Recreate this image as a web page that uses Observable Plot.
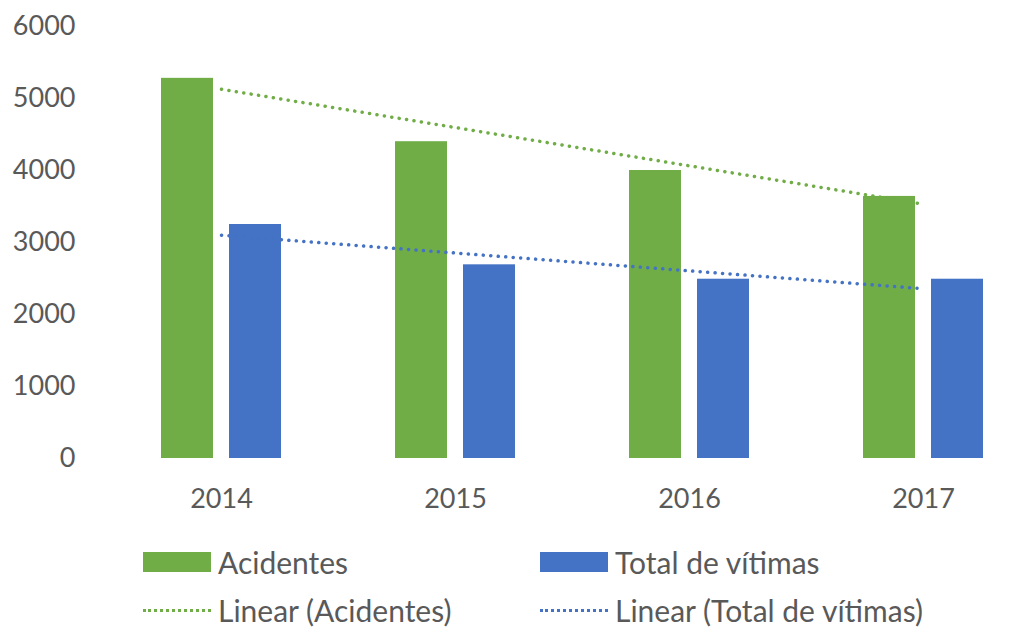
<!DOCTYPE html>
<html>
<head>
<meta charset="utf-8">
<script src="https://cdn.jsdelivr.net/npm/d3@7"></script>
<script src="https://cdn.jsdelivr.net/npm/@observablehq/plot@0.6"></script>
<style>
  body { margin: 0; background: #fff; font-family: Lato, sans-serif; }
  #wrap { position: relative; width: 1026px; height: 630px; }
  #chart { position: absolute; left: 0; top: 0; }
  .leg { position: absolute; display: flex; align-items: center; font-size: 30px; color: #595959; font-family: Lato, sans-serif; }
  .sw { width: 68px; height: 20px; margin-right: 7px; }
  .ln { width: 68px; height: 0; margin-right: 7px; border-top: 3px dotted; }
</style>
</head>
<body>
<div id="wrap">
  <div id="chart"></div>
  <div id="legend"></div>
</div>
<script>
const years = ["2014", "2015", "2016", "2017"];
const acidentes = [5280, 4400, 4000, 3640];
const vitimas = [3250, 2690, 2490, 2490];
const yTicks = [0, 1000, 2000, 3000, 4000, 5000, 6000];
const seriesNames = ["Acidentes", "Total de vítimas"];
const trendNames = ["Linear (Acidentes)", "Linear (Total de vítimas)"];
const colors = ["#70ad47", "#4472c4"];

function linreg(vals) {
  const mx = d3.mean(vals, (_, i) => i);
  const my = d3.mean(vals);
  const slope = d3.sum(vals, (v, i) => (i - mx) * (v - my)) / d3.sum(vals, (_, i) => (i - mx) ** 2);
  return vals.map((_, i) => my + slope * (i - mx));
}

const rowsA = years.map((y, i) => ({year: y, value: acidentes[i]}));
const rowsV = years.map((y, i) => ({year: y, value: vitimas[i]}));
const trendA = linreg(acidentes).map((v, i) => ({year: years[i], value: v}));
const trendV = linreg(vitimas).map((v, i) => ({year: years[i], value: v}));

const chart = Plot.plot({
  width: 1026,
  height: 530,
  marginLeft: 104,
  marginRight: 0,
  marginTop: 26,
  marginBottom: 72,
  style: {fontFamily: "Lato, sans-serif", fontSize: "27px", color: "#595959", background: "white"},
  x: {domain: years, range: [104, 1040], padding: 0, label: null, tickSize: 0, tickPadding: 30},
  y: {domain: [0, 6000], ticks: yTicks, tickFormat: d => String(d), label: null, tickSize: 0, tickPadding: 29},
  marks: [
    Plot.ruleY(yTicks, {stroke: "#d9d9d9", strokeWidth: 2, x1: 104, x2: 1026}),
    Plot.barY(rowsA, {x: "year", y: "value", fill: colors[0], insetLeft: 57, insetRight: 125}),
    Plot.barY(rowsV, {x: "year", y: "value", fill: colors[1], insetLeft: 125, insetRight: 57}),
    Plot.line(trendA, {x: "year", y: "value", stroke: colors[0], strokeWidth: 3.5, strokeDasharray: "0.1,7.4", strokeLinecap: "round"}),
    Plot.line(trendV, {x: "year", y: "value", stroke: colors[1], strokeWidth: 3.5, strokeDasharray: "0.1,7.4", strokeLinecap: "round"})
  ]
});
chart.querySelectorAll("text").forEach(t => t.setAttribute("fill", "#595959"));
document.getElementById("chart").appendChild(chart);

const legend = document.getElementById("legend");
const legItems = [
  {label: seriesNames[0], color: colors[0], kind: "sw", left: 143, top: 562},
  {label: seriesNames[1], color: colors[1], kind: "sw", left: 540, top: 562},
  {label: trendNames[0], color: colors[0], kind: "ln", left: 143, top: 610},
  {label: trendNames[1], color: colors[1], kind: "ln", left: 540, top: 610}
];
legItems.forEach(it => {
  const d = document.createElement("div");
  d.className = "leg";
  d.style.left = it.left + "px";
  d.style.top = (it.top - 18) + "px";
  d.style.height = "36px";
  const s = document.createElement("div");
  s.className = it.kind;
  if (it.kind === "sw") s.style.background = it.color; else s.style.borderTopColor = it.color;
  const t = document.createElement("span");
  t.textContent = it.label;
  d.appendChild(s);
  d.appendChild(t);
  legend.appendChild(d);
});
</script>
</body>
</html>
